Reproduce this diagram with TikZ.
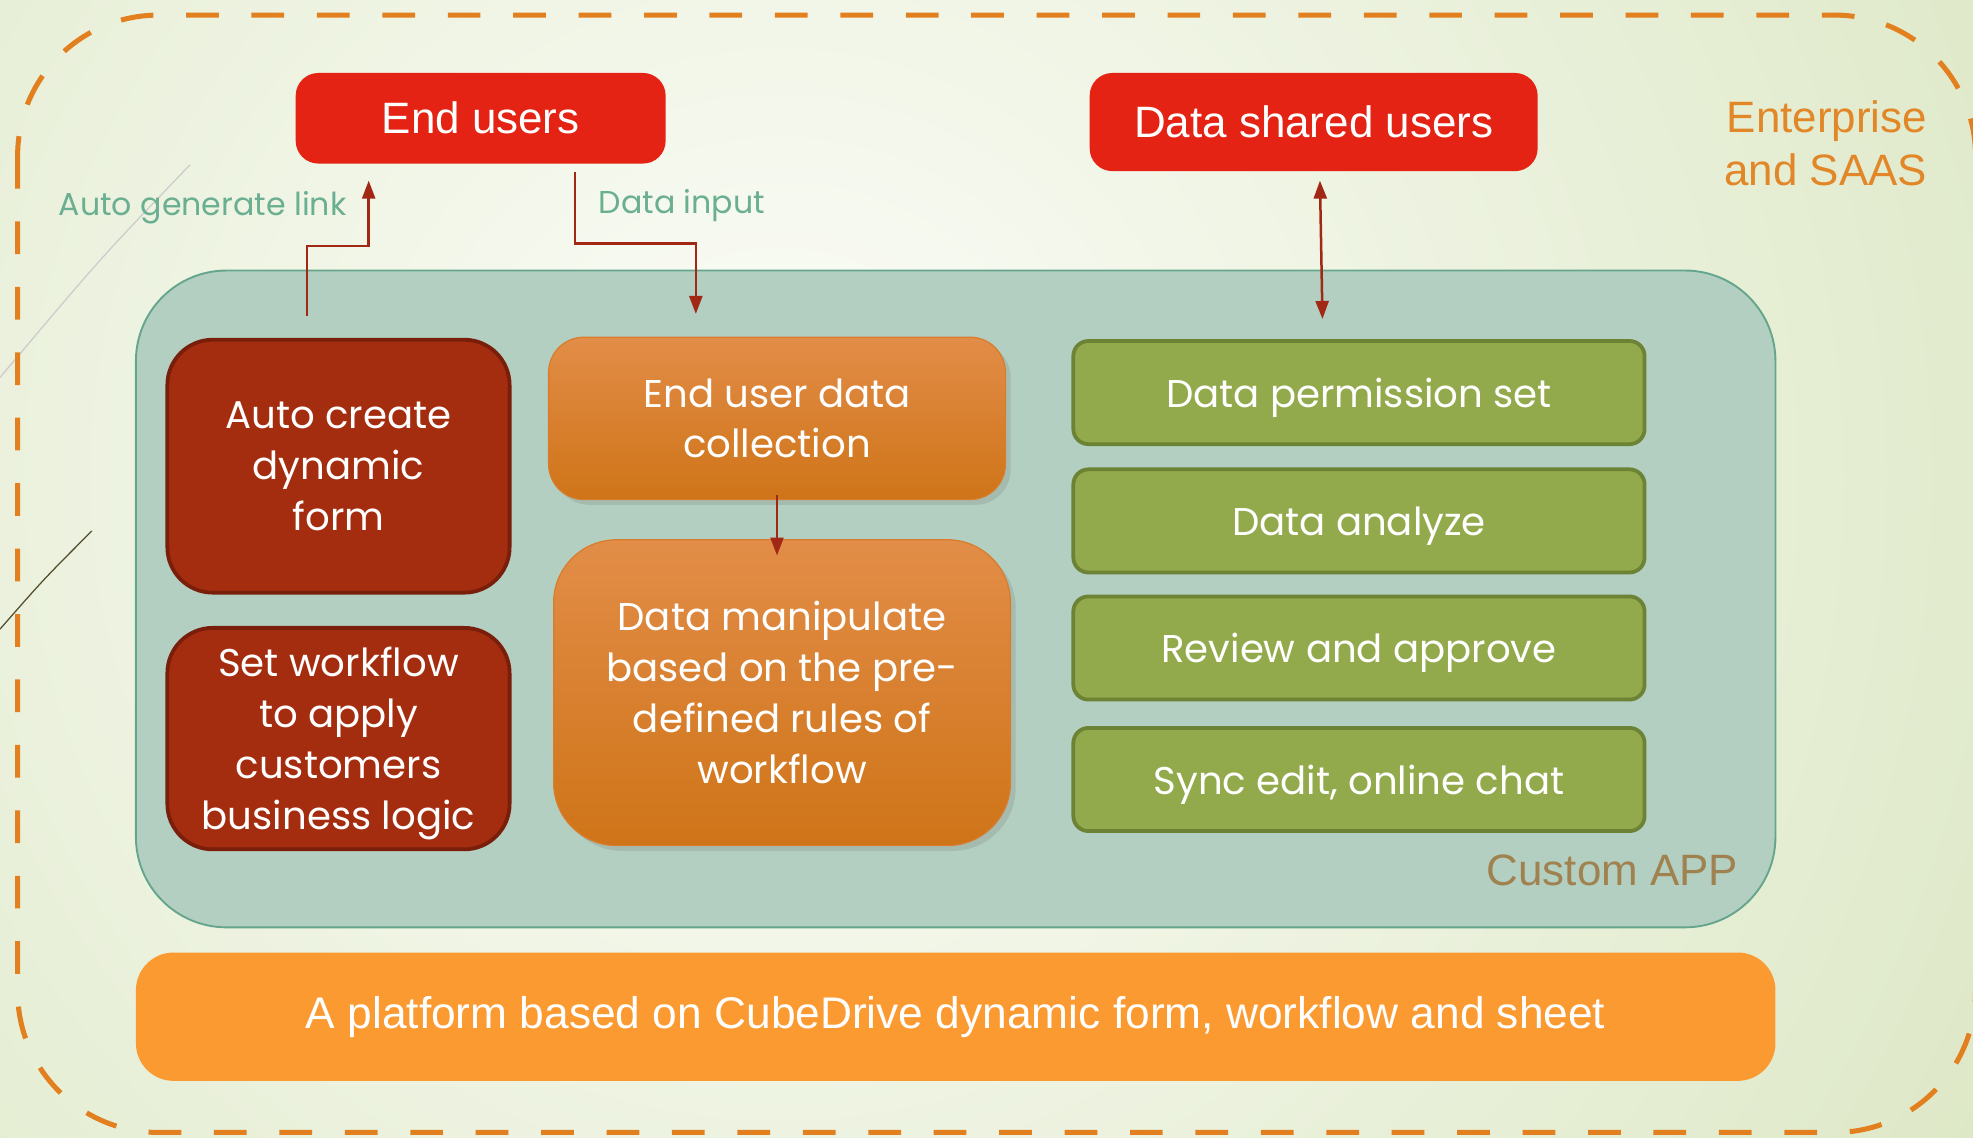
\documentclass[tikz,border=0pt]{standalone}
\usepackage{fontspec}
\setmainfont{Liberation Sans}
\newfontfamily\gothic{Poppins}
\usepackage{tikz}
\usetikzlibrary{arrows.meta,calc,shadows}

\definecolor{bgouter}{RGB}{220,231,196}
\definecolor{bginner}{RGB}{252,253,249}
\definecolor{dashorange}{RGB}{226,128,32}
\definecolor{userred}{RGB}{228,35,20}
\definecolor{appfill}{RGB}{179,207,193}
\definecolor{appline}{RGB}{100,165,140}
\definecolor{formred}{RGB}{165,45,15}
\definecolor{formline}{RGB}{120,30,10}
\definecolor{collecttop}{RGB}{226,141,72}
\definecolor{collectbot}{RGB}{207,116,24}
\definecolor{collectline}{RGB}{215,125,45}
\definecolor{taskgreen}{RGB}{147,170,76}
\definecolor{taskline}{RGB}{108,130,52}
\definecolor{baseorange}{RGB}{251,154,49}
\definecolor{linkred}{RGB}{160,40,20}
\definecolor{linktext}{RGB}{107,175,146}
\definecolor{appbrown}{RGB}{160,130,80}
\definecolor{saasorange}{RGB}{226,135,40}

\newcommand{\px}{0.12583mm}

\begin{document}
\begin{tikzpicture}[x=0.12583mm,y=-0.12583mm,
	titlefont/.style={font=\fontsize{12.5}{15}\selectfont},
	userbox/.style={fill=userred, rounded corners=18*\px, text=white, inner sep=0pt, titlefont},
	redbox/.style={fill=formred, draw=formline, line width=3*\px, rounded corners=36*\px,
		minimum width=272*\px, inner sep=0pt, text=white, align=center, text depth=0pt,
		font=\gothic\fontsize{11}{14.5}\selectfont},
	orangebox/.style={top color=collecttop, bottom color=collectbot, draw=collectline,
		line width=1*\px, minimum width=363*\px, inner sep=0pt, text=white, align=center,
		drop shadow={opacity=0.25, shadow xshift=1.5pt, shadow yshift=-1.5pt},
		font=\gothic\fontsize{11}{14.5}\selectfont},
	greenbox/.style={fill=taskgreen, draw=taskline, line width=3*\px, rounded corners=12*\px,
		minimum width=454*\px, minimum height=82*\px, inner sep=0pt, text=white, text depth=0pt,
		font=\gothic\fontsize{11}{14.5}\selectfont},
	link/.style={draw=linkred, line width=0.25mm, -{Triangle[length=1.8mm,width=1.3mm]}},
	linklabel/.style={text=linktext, font=\gothic\fontsize{9}{11}\selectfont, inner sep=0pt}
	]

	\useasboundingbox (0,0) rectangle (1568,904);

	% background
	\begin{scope}
		\clip (0,0) rectangle (1568,904);
		\shade[inner color=bginner, outer color=bgouter] (620,380) circle (1150);
		\draw[black!20, line width=1*\px] (151,131) .. controls (80,205) .. (0,300);
		\draw[black!55!olive, line width=1*\px] (73,422) .. controls (35,460) .. (0,500);
		\draw[dashorange, line width=4*\px, dash pattern=on 26*\px off 26*\px,
			rounded corners=112*\px] (14,12) rectangle (1570,900);
	\end{scope}

	% users
	\node[userbox, minimum width=294*\px, minimum height=72*\px] (endusers) at (382,94) {End users};
	\node[userbox, minimum width=356*\px, minimum height=78*\px] (shared) at (1044,97) {Data shared users};
	\node[text=saasorange, titlefont, align=right, anchor=east, inner sep=0pt] (saas) at (1532,114)
		{Enterprise\\and SAAS};

	% custom app
	\node[fill=appfill, draw=appline, line width=1.5*\px, rounded corners=72*\px,
		minimum width=1303*\px, minimum height=522*\px] (app) at (759.5,476) {};
	\node[text=appbrown, titlefont, anchor=east, inner sep=0pt] (applabel) at (1382,692) {Custom APP};

	\node[redbox, minimum height=201*\px] (form) at (269,370.5) {Auto create\\dynamic\\form};
	\node[redbox, minimum height=176*\px] (logic) at (269,587) {Set workflow\\to apply\\customers\\business logic};

	\node[orangebox, rounded corners=28*\px, minimum height=129*\px] (collect) at (617.5,332.5)
		{End user data\\collection};
	\node[orangebox, rounded corners=50*\px, minimum height=243*\px] (manip) at (621.5,550.5)
		{Data manipulate\\based on the pre-\\defined rules of\\workflow};

	\node[greenbox] (permission) at (1080,312) {Data permission set};
	\node[greenbox] (analyze) at (1080,414) {Data analyze};
	\node[greenbox] (review) at (1080,515) {Review and approve};
	\node[greenbox] (sync) at (1080,619.5) {Sync edit, online chat};

	% platform
	\node[fill=baseorange, rounded corners=30*\px, minimum width=1303*\px, minimum height=102*\px,
		text=white, font=\fontsize{12.6}{15}\selectfont] (platform) at (759.5,808)
		{A platform based on CubeDrive dynamic form, workflow and sheet};

	% links
	\draw[link] ($(form.north)+(-25,-17)$) -- ++(0,-56) -| ($(endusers.south)+(-89,13)$);
	\node[linklabel] (autolink) at (161,165) {Auto generate link};
	\draw[link] ($(endusers.south)+(75,6)$) -- ++(0,57) -| ($(collect.north)+(-64.5,-18)$);
	\node[linklabel] (datainput) at (542,163) {Data input};
	\draw[link, {Triangle[length=1.8mm,width=1.3mm]}-{Triangle[length=1.8mm,width=1.3mm]}]
		($(shared.south)+(5,7)$) -- ($(permission.north)+(-29,-16)$);
	\draw[link] ($(collect.south)+(0,-4)$) -- ($(manip.north)+(-4,13)$);

\end{tikzpicture}
\end{document}
